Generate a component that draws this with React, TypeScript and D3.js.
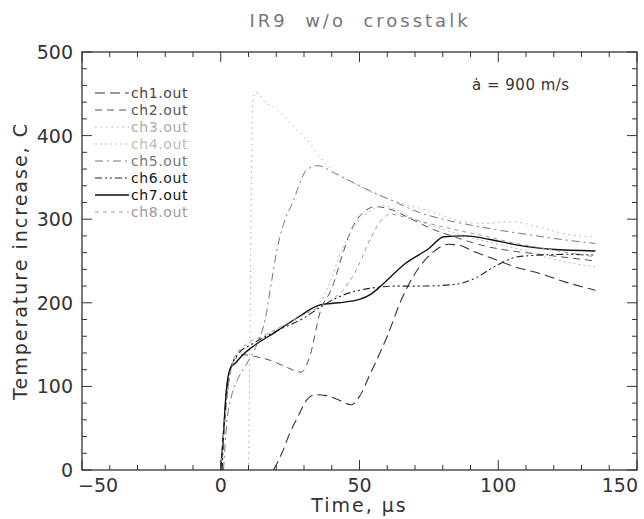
import React from "react";
import * as d3 from "d3";

const title = "IR9  w/o  crosstalk";
const xLabel = "Time, \u03bcs";
const yLabel = "Temperature increase, C";
const annotation = "\u0227 = 900 m/s";
const xTicks = [-50, 0, 50, 100, 150];
const yTicks = [0, 100, 200, 300, 400, 500];
const seriesNames = ["ch1.out", "ch2.out", "ch3.out", "ch4.out", "ch5.out", "ch6.out", "ch7.out", "ch8.out"];

const ch1: [number, number][] = [[19, 0], [22, 20], [25, 45], [28, 65], [31, 84], [34, 90], [38, 89], [43, 83], [47, 78], [50, 88], [54, 116], [60, 160], [65, 203], [70, 235], [76, 259], [82, 270], [86, 269], [90, 263], [98, 253], [106, 243], [115, 235], [124, 225], [135, 215]];
const ch2: [number, number][] = [[0, 0], [1, 40], [3, 110], [5, 132], [8, 138], [12, 136], [18, 131], [23, 124], [29, 117], [32, 135], [36, 191], [40, 217], [44, 259], [47, 287], [51, 307], [56, 315], [61, 312], [67, 303], [75, 290], [85, 278], [95, 268], [105, 262], [115, 258], [125, 254], [135, 250]];
const ch3: [number, number][] = [[10, 0], [10.5, 150], [11, 330], [11.5, 440], [12.5, 452], [16, 440], [20, 432], [25, 415], [30.5, 397], [36, 373], [42.5, 353], [47, 345], [54, 333], [59, 326], [66, 318], [74, 311], [81, 303], [88, 297], [94, 295], [105, 297], [115, 290], [125, 282], [135, 279]];
const ch4: [number, number][] = [[0, 0], [2, 90], [4, 125], [7, 140], [12, 152], [20, 168], [28, 183], [35, 197], [39, 222], [43, 258], [47, 285], [51, 302], [55, 312], [59, 316], [64, 310], [70, 300], [80, 288], [90, 278], [100, 270], [110, 262], [120, 252], [135, 243]];
const ch5: [number, number][] = [[1, 0], [2, 50], [4, 90], [6, 108], [9, 125], [13, 150], [16, 180], [18, 219], [20, 259], [22.7, 295], [26.3, 323], [28, 339], [31, 359], [35, 364], [41, 355], [47, 345], [55, 332], [62, 322], [70, 310], [80, 300], [90, 293], [100, 287], [110, 282], [120, 277], [135, 271]];
const ch6: [number, number][] = [[0.5, 0], [1.5, 70], [3, 115], [6, 138], [11, 150], [20, 166], [30, 182], [36, 195], [42.5, 207], [50, 215], [64, 220], [72, 220], [84.6, 222], [92, 230], [98, 242], [107, 255], [114.6, 257], [125, 258], [135, 257]];
const ch7: [number, number][] = [[0, 0], [1, 45], [2, 95], [3.5, 122], [5.3, 128], [8, 138], [11.3, 147], [19.7, 165], [28, 183], [35.3, 197], [42.5, 200], [50, 204], [54, 210], [58, 221], [66.5, 247], [75, 265], [80.4, 279], [88, 280], [96.6, 276], [107, 269], [119, 264], [135, 262]];
const ch8: [number, number][] = [[0, 0], [1.5, 60], [3, 105], [5, 135], [9, 150], [15, 160], [22, 172], [30, 186], [38, 200], [44, 215], [49, 240], [53, 270], [57, 295], [61, 306], [67, 302], [75, 295], [85, 287], [95, 280], [105, 272], [115, 266], [125, 260], [135, 255]];

const seriesData = [ch1, ch2, ch3, ch4, ch5, ch6, ch7, ch8];
const seriesColor = ["#333", "#555", "#aaa", "#bbb", "#777", "#222", "#111", "#999"];
const seriesDash = ["10,5", "7,5", "1.5,4", "2,3", "8,4,2,4", "7,3,2,3,2,3", "none", "4,4"];
const seriesWidth = [1.1, 1.0, 1.0, 1.0, 1.0, 1.1, 1.4, 1.0];
const legendTextColor = ["#444", "#555", "#aaa", "#bbb", "#777", "#222", "#111", "#999"];

const W = 644;
const H = 519;
const FONT = "'DejaVu Sans', 'Liberation Sans', sans-serif";

export default function App() {
  const x = d3.scaleLinear().domain([-50, 150]).range([82, 637]);
  const y = d3.scaleLinear().domain([0, 500]).range([470, 52]);
  const line = d3
    .line<[number, number]>()
    .x((d) => x(d[0]))
    .y((d) => y(d[1]))
    .curve(d3.curveMonotoneX);

  const xMinor = d3.range(-50, 151, 10);
  const yMinor = d3.range(0, 501, 20);
  const [x0, x1] = x.range();
  const [y0, y1] = y.range();

  const legendY0 = 98;
  const legendStep = 17;

  return (
    <svg width={W} height={H} style={{ position: "absolute", left: 0, top: 0, background: "#fff" }} fontFamily={FONT}>
      <rect width={W} height={H} fill="#fff" />
      <text x={360} y={27} textAnchor="middle" fontSize={18} fill="#777" letterSpacing={3} style={{ whiteSpace: "pre" }}>
        {title}
      </text>

      <defs>
        <clipPath id="clip">
          <rect x={x0} y={y1} width={x1 - x0} height={y0 - y1} />
        </clipPath>
      </defs>
      <g clipPath="url(#clip)">
        {seriesData.map((s, i) => (
          <path
            key={i}
            d={line(s) || ""}
            fill="none"
            stroke={seriesColor[i]}
            strokeWidth={seriesWidth[i]}
            strokeDasharray={seriesDash[i]}
          />
        ))}
      </g>

      <rect x={x0} y={y1} width={x1 - x0} height={y0 - y1} fill="none" stroke="#222" strokeWidth={1.2} />

      {xMinor.map((t) => {
        const major = xTicks.includes(t);
        const len = major ? 10 : 5;
        return (
          <g key={"xt" + t}>
            <line x1={x(t)} x2={x(t)} y1={y0} y2={y0 - len} stroke="#333" strokeWidth={1} />
            <line x1={x(t)} x2={x(t)} y1={y1} y2={y1 + len} stroke="#333" strokeWidth={1} />
          </g>
        );
      })}
      {yMinor.map((v) => {
        const major = yTicks.includes(v);
        const len = major ? 10 : 5;
        return (
          <g key={"yt" + v}>
            <line x1={x0} x2={x0 + len} y1={y(v)} y2={y(v)} stroke="#333" strokeWidth={1} />
            <line x1={x1} x2={x1 - len} y1={y(v)} y2={y(v)} stroke="#333" strokeWidth={1} />
          </g>
        );
      })}

      {xTicks.map((t, i) => (
        <text
          key={"xl" + t}
          x={i === 0 ? x(t) - 4 : i === xTicks.length - 1 ? x(t) + 1 : x(t)}
          y={y0 + 22}
          textAnchor={i === 0 ? "start" : i === xTicks.length - 1 ? "end" : "middle"}
          fontSize={19}
          fill="#333"
        >
          {t < 0 ? "\u2212" + Math.abs(t) : t}
        </text>
      ))}
      {yTicks.map((v) => (
        <text key={"yl" + v} x={x0 - 9} y={y(v) + 7} textAnchor="end" fontSize={19} fill="#333">
          {v}
        </text>
      ))}

      <text x={(x0 + x1) / 2} y={512} textAnchor="middle" fontSize={19} fill="#333" letterSpacing={2}>
        {xLabel}
      </text>
      <text
        transform={`translate(27, ${(y0 + y1) / 2}) rotate(-90)`}
        textAnchor="middle"
        fontSize={19}
        fill="#333"
        letterSpacing={2}
      >
        {yLabel}
      </text>

      {seriesNames.map((name, i) => (
        <g key={name}>
          <line
            x1={95}
            x2={129}
            y1={legendY0 + i * legendStep - 5}
            y2={legendY0 + i * legendStep - 5}
            stroke={seriesColor[i]}
            strokeWidth={seriesWidth[i]}
            strokeDasharray={seriesDash[i]}
          />
          <text x={131} y={legendY0 + i * legendStep} fontSize={14} letterSpacing={0.6} fill={legendTextColor[i]}>
            {name}
          </text>
        </g>
      ))}

      <text x={472} y={90} fontSize={15} fill="#333" letterSpacing={0.5}>
        {annotation}
      </text>
    </svg>
  );
}
